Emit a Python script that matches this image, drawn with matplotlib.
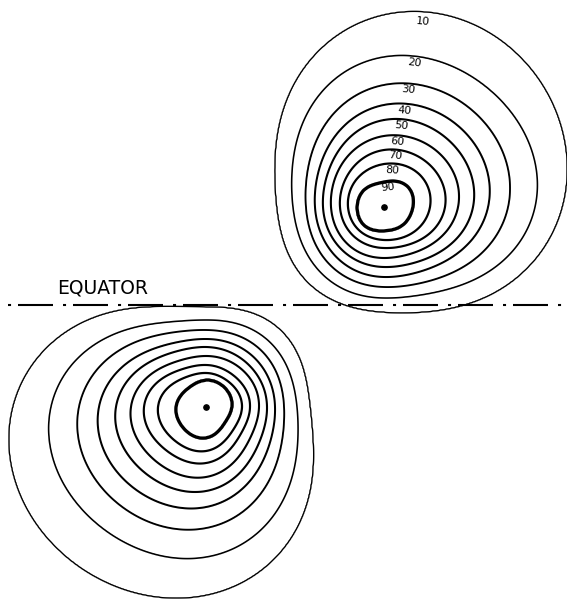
import numpy as np
import matplotlib
matplotlib.use("Agg")
import matplotlib.pyplot as plt

plt.rcParams["lines.scale_dashes"] = False

# Contour levels (percent of the central maximum)
levels = [10, 20, 30, 40, 50, 60, 70, 80, 90]

# Isoline radii around each centre, sampled in eight compass directions
# (counter-clockwise from east). Each list runs over levels 10 ... 90.
north_e = [178, 151, 124, 104, 89, 74, 61, 46, 29]
north_ne = [202, 158, 131, 110, 93, 77, 62, 48, 31]
north_n = [192, 150, 122, 102, 87, 71, 57, 43, 25]
north_nw = [141, 116, 95, 81, 70, 60, 49, 39, 26]
north_w = [107, 91, 78, 69, 61, 53, 44, 36, 27]
north_sw = [107, 91, 79, 69, 60, 52, 42, 34, 27]
north_s = [105, 91, 80, 70, 60, 51, 41, 33, 24]
north_se = [132, 110, 94, 80, 69, 58, 48, 38, 26]

south_e = [104, 91, 78, 69, 61, 53, 44, 36, 26]
south_ne = [107, 91, 79, 69, 60, 52, 42, 34, 27]
south_n = [100, 87, 77, 68, 60, 51, 42, 34, 27]
south_nw = [134, 110, 94, 80, 69, 58, 48, 38, 26]
south_w = [193, 155, 127, 107, 90, 75, 62, 48, 30]
south_sw = [205, 160, 131, 109, 90, 74, 59, 46, 31]
south_s = [188, 150, 121, 100, 84, 70, 56, 44, 31]
south_se = [141, 116, 94, 79, 67, 56, 45, 36, 25]

# Centres of the two cells and the equator
north_centre = (384, 394)
south_centre = (206, 194)
equator_y = 295.7

W, H = 567, 601


def ring_radius(samples, phi):
    """Smooth periodic (trigonometric) interpolation of radius vs angle."""
    samples = np.asarray(samples, float)
    n = len(samples)
    c = np.fft.rfft(samples) / n
    r = np.full_like(phi, c[0].real, dtype=float)
    for k in range(1, len(c)):
        w = 1.0 if (n % 2 == 0 and k == n // 2) else 2.0
        r += w * (c[k].real * np.cos(k * phi) - c[k].imag * np.sin(k * phi))
    return r


def cell_field(X, Y, centre, table):
    dx = X - centre[0]
    dy = Y - centre[1]
    d = np.hypot(dx, dy)
    phi = np.arctan2(dy, dx)
    R = [ring_radius(table[:, k], phi) for k in range(table.shape[1])]
    knots = [np.zeros_like(d)] + R[::-1] + [R[0] * 1.8]
    vals = [100.0] + [float(v) for v in levels[::-1]] + [0.0]
    f = np.zeros_like(d)
    for i in range(len(knots) - 1):
        r0, r1 = knots[i], knots[i + 1]
        m = (d >= r0) & (d < r1)
        t = (d - r0) / (r1 - r0)
        seg = vals[i] + t * (vals[i + 1] - vals[i])
        f[m] = seg[m]
    return f


north_table = np.array([north_e, north_ne, north_n, north_nw,
                        north_w, north_sw, north_s, north_se], float)
south_table = np.array([south_e, south_ne, south_n, south_nw,
                        south_w, south_sw, south_s, south_se], float)

xs = np.arange(0, W + 1, 1.0)
ys = np.arange(0, H + 1, 1.0)
X, Y = np.meshgrid(xs, ys)
field = np.maximum(cell_field(X, Y, north_centre, north_table),
                   cell_field(X, Y, south_centre, south_table))

fig = plt.figure(figsize=(5.67, 6.01), dpi=100)
ax = fig.add_axes([0, 0, 1, 1])
ax.set_xlim(0, W)
ax.set_ylim(0, H)
ax.axis("off")

widths = [1.0, 1.15, 1.35, 1.45, 1.5, 1.5, 1.55, 1.6, 2.4]
ax.contour(X, Y, field, levels=levels, colors="black", linewidths=widths)

# centre dots
for c in (north_centre, south_centre):
    ax.plot(c[0], c[1], "o", ms=3.8, color="black")

# level labels just inside the top of each northern isoline
lab_phi = np.deg2rad(78.0)
for k, lev in enumerate(levels):
    ph = np.array([lab_phi - 0.01, lab_phi, lab_phi + 0.01])
    r = ring_radius(north_table[:, k], ph)
    px = north_centre[0] + r * np.cos(ph)
    py = north_centre[1] + r * np.sin(ph)
    ang = np.degrees(np.arctan2(py[0] - py[2], px[0] - px[2]))
    inset = 10.0 if lev == 10 else 6.5
    tx = north_centre[0] + (r[1] - inset) * np.cos(lab_phi)
    ty = north_centre[1] + (r[1] - inset) * np.sin(lab_phi)
    ax.text(tx, ty, str(lev), fontsize=7.8, ha="center", va="center",
            rotation=ang, rotation_mode="anchor", family="DejaVu Sans")

# equator: dot-dash line
ax.plot([8, W], [equator_y, equator_y], color="black", lw=1.5,
        linestyle=(0, (2.2, 5.0, 25.2, 7.2)), dash_capstyle="butt")
ax.text(57, 308, "EQUATOR", fontsize=13.5, ha="left", va="baseline",
        family="DejaVu Sans")

fig.savefig("out.png", dpi=100, facecolor="white")
